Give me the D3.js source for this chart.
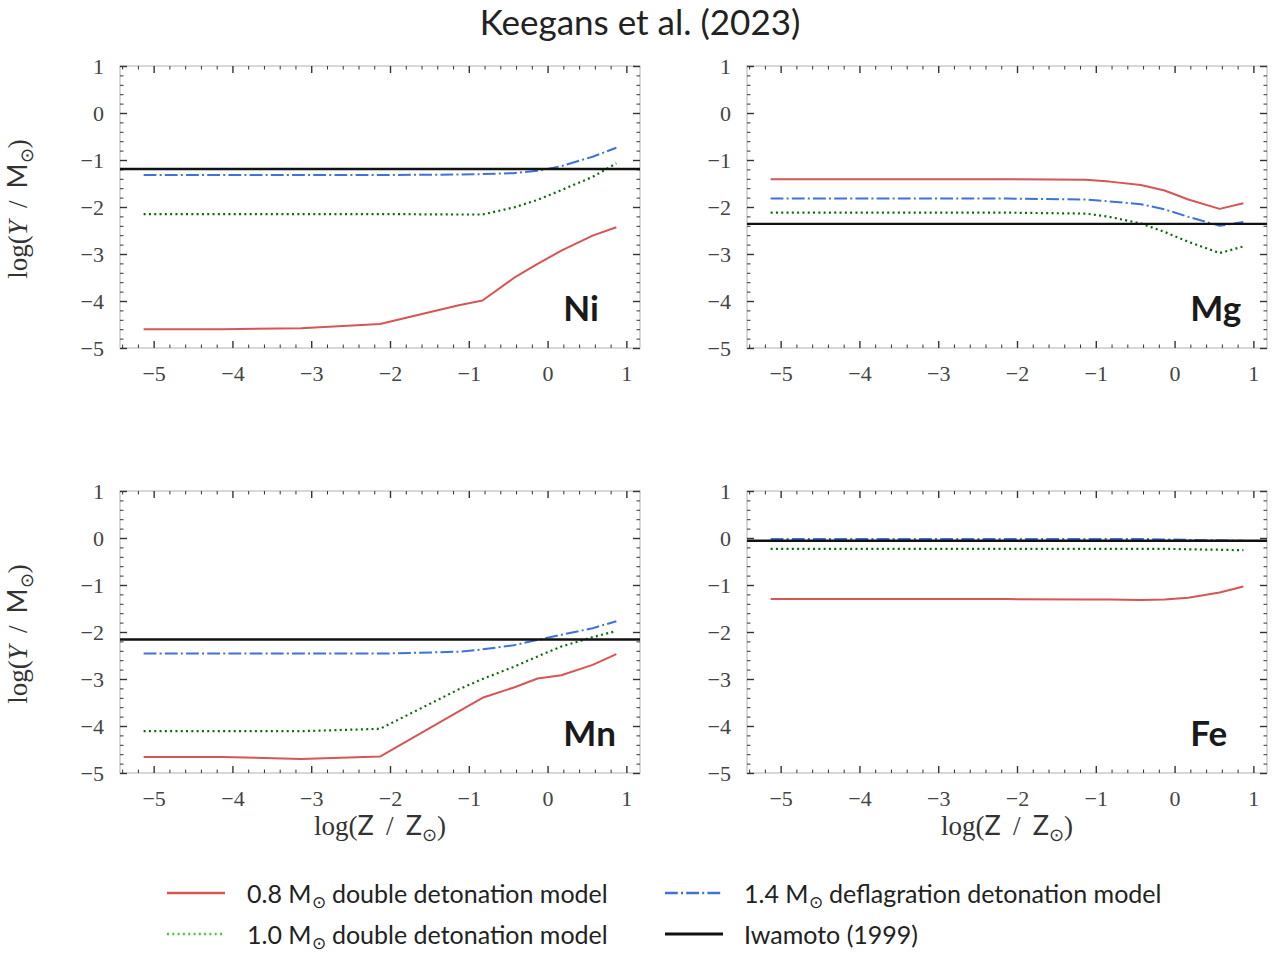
<!DOCTYPE html>
<html>
<head>
<meta charset="utf-8">
<script src="https://cdn.jsdelivr.net/npm/d3@7"></script>
<style>
  html, body { margin: 0; padding: 0; background: #fff; }
  svg { display: block; }
</style>
</head>
<body>
<svg id="chart" width="1275" height="953"></svg>
<script>
// Metallicity grid, log(Z / Zsun)
const logZ = [-5.127, -4.127, -3.127, -2.127, -1.127, -0.826, -0.428, -0.127, 0.174, 0.572, 0.873];

// Yields, log(Y / Msun)
const niDD08 = [-4.60, -4.60, -4.58, -4.49, -4.09, -3.99, -3.51, -3.21, -2.93, -2.61, -2.43];
const niDD10 = [-2.15, -2.15, -2.15, -2.15, -2.16, -2.16, -2.01, -1.85, -1.64, -1.36, -1.07];
const niDDT14 = [-1.32, -1.32, -1.32, -1.32, -1.31, -1.30, -1.28, -1.23, -1.13, -0.93, -0.74];
const niIwamoto = -1.19;

const mgDD08 = [-1.41, -1.41, -1.41, -1.41, -1.42, -1.46, -1.53, -1.65, -1.84, -2.04, -1.92];
const mgDD10 = [-2.12, -2.12, -2.12, -2.12, -2.14, -2.21, -2.35, -2.53, -2.74, -2.98, -2.84];
const mgDDT14 = [-1.82, -1.82, -1.82, -1.82, -1.84, -1.88, -1.94, -2.05, -2.21, -2.40, -2.32];
const mgIwamoto = -2.36;

const mnDD08 = [-4.66, -4.66, -4.70, -4.65, -3.69, -3.40, -3.18, -2.99, -2.92, -2.70, -2.47];
const mnDD10 = [-4.11, -4.11, -4.11, -4.06, -3.22, -3.00, -2.74, -2.52, -2.31, -2.11, -1.98];
const mnDDT14 = [-2.46, -2.46, -2.46, -2.46, -2.42, -2.37, -2.28, -2.17, -2.06, -1.92, -1.77];
const mnIwamoto = -2.16;

const feDD08 = [-1.30, -1.30, -1.30, -1.30, -1.31, -1.31, -1.32, -1.31, -1.27, -1.16, -1.03];
const feDD10 = [-0.23, -0.23, -0.23, -0.23, -0.23, -0.23, -0.23, -0.23, -0.24, -0.25, -0.26];
const feDDT14 = [-0.02, -0.02, -0.02, -0.02, -0.02, -0.02, -0.02, -0.03, -0.04, -0.05, -0.06];
const feIwamoto = -0.06;

const elements = ["Ni", "Mg", "Mn", "Fe"];
const xTicks = [-5, -4, -3, -2, -1, 0, 1];
const yTicks = [-5, -4, -3, -2, -1, 0, 1];
const legendLabels = [
  "0.8 M|double detonation model",
  "1.0 M|double detonation model",
  "1.4 M|deflagration detonation model",
  "Iwamoto (1999)"
];
const titleText = "Keegans et al. (2023)";

const panelData = [
  { el: elements[0], series: [niDD08, niDD10, niDDT14], ref: niIwamoto },
  { el: elements[1], series: [mgDD08, mgDD10, mgDDT14], ref: mgIwamoto },
  { el: elements[2], series: [mnDD08, mnDD10, mnDDT14], ref: mnIwamoto },
  { el: elements[3], series: [feDD08, feDD10, feDDT14], ref: feIwamoto }
];

// Styles for the four model curves
const styles = [
  { color: "#d65555", width: 2, dash: null, legendColor: "#d65555" },
  { color: "#0b6b0b", width: 2.2, dash: "2,3.3", legendColor: "#3fd03f" },
  { color: "#3f72d8", width: 2, dash: "12.8,3.2,2,3.2", legendColor: "#3f72d8" },
  { color: "#111111", width: 2.4, dash: null, legendColor: "#111111" }
];

const SERIF = "'Liberation Serif', 'DejaVu Serif', serif";
const SANS = "Lato, 'Open Sans', sans-serif";

const svg = d3.select("#chart");

// Layout of the 2x2 grid
const colX = [120, 747];
const rowY = [66, 491];
const pw = 520, ph = 282;

const xDomain = [logZ[0] - 0.05 * (logZ[logZ.length - 1] - logZ[0]),
                 logZ[logZ.length - 1] + 0.05 * (logZ[logZ.length - 1] - logZ[0])];

svg.append("text")
  .attr("x", 640).attr("y", 35)
  .attr("text-anchor", "middle")
  .attr("font-family", SANS)
  .attr("font-size", 35)
  .attr("fill", "#222")
  .text(titleText);

// Writes a label like "log(Y / M⊙)" with mixed faces and a subscript sun symbol
function mathLabel(sel, parts) {
  parts.forEach(p => {
    const t = sel.append("tspan").text(p.t)
      .attr("font-family", p.f === "sans" ? SANS : SERIF);
    if (p.i) t.attr("font-style", "italic");
    if (p.sub) t.attr("font-size", "0.68em");
    if (p.dy) t.attr("dy", p.dy);
  });
}

panelData.forEach((pd, i) => {
  const col = i % 2, row = Math.floor(i / 2);
  const x0 = colX[col], y0 = rowY[row];
  const g = svg.append("g").attr("transform", `translate(${x0},${y0})`);

  const x = d3.scaleLinear().domain(xDomain).range([0, pw]);
  const y = d3.scaleLinear().domain([-5, 1]).range([ph, 0]);

  const clipId = "clip" + i;
  g.append("clipPath").attr("id", clipId)
    .append("rect").attr("width", pw).attr("height", ph);

  // frame
  g.append("rect").attr("width", pw).attr("height", ph)
    .attr("fill", "none").attr("stroke", "#cfcfcf").attr("stroke-width", 1.6);

  // ticks (inward, on all four sides)
  const xMinor = d3.range(-5.4, 1.2, 0.2).map(v => +v.toFixed(1)).filter(v => Math.abs(v - Math.round(v)) > 1e-6 && v >= xDomain[0] && v <= xDomain[1]);
  const yMinor = d3.range(-5, 1.0001, 0.2).map(v => +v.toFixed(1)).filter(v => Math.abs(v - Math.round(v)) > 1e-6);
  const fmt = d => d3.format("")(d).replace("-", "\u2212");

  const axB = d3.axisBottom(x).tickValues(xTicks).tickSize(-7).tickFormat(fmt).tickPadding(17);
  const axT = d3.axisTop(x).tickValues(xTicks).tickSize(-7).tickFormat("");
  const axBm = d3.axisBottom(x).tickValues(xMinor).tickSize(-3.5).tickFormat("");
  const axTm = d3.axisTop(x).tickValues(xMinor).tickSize(-3.5).tickFormat("");
  const axL = d3.axisLeft(y).tickValues(yTicks).tickSize(-7).tickFormat(fmt).tickPadding(16);
  const axR = d3.axisRight(y).tickValues(yTicks).tickSize(-7).tickFormat("");
  const axLm = d3.axisLeft(y).tickValues(yMinor).tickSize(-3.5).tickFormat("");
  const axRm = d3.axisRight(y).tickValues(yMinor).tickSize(-3.5).tickFormat("");

  const put = (ax, tr, minor) => {
    const a = g.append("g").attr("transform", tr).call(ax);
    a.select(".domain").remove();
    a.selectAll(".tick line").attr("stroke", "#333").attr("stroke-width", minor ? 1 : 1.4);
    a.selectAll(".tick text").attr("font-family", SERIF).attr("font-size", 22).attr("fill", "#444");
    return a;
  };
  put(axB, `translate(0,${ph})`, false);
  put(axT, "translate(0,0)", false);
  put(axBm, `translate(0,${ph})`, true);
  put(axTm, "translate(0,0)", true);
  put(axL, "translate(0,0)", false);
  put(axR, `translate(${pw},0)`, false);
  put(axLm, "translate(0,0)", true);
  put(axRm, `translate(${pw},0)`, true);

  const plot = g.append("g").attr("clip-path", `url(#${clipId})`);
  const line = d3.line().x((d, k) => x(logZ[k])).y(d => y(d));

  pd.series.forEach((s, k) => {
    const st = styles[k];
    plot.append("path").datum(s)
      .attr("d", line)
      .attr("fill", "none")
      .attr("stroke", st.color)
      .attr("stroke-width", st.width)
      .attr("stroke-dasharray", st.dash)
      .attr("stroke-linejoin", "round");
  });

  // Iwamoto (1999) reference yield spans the full axis width
  plot.append("line")
    .attr("x1", 0).attr("x2", pw)
    .attr("y1", y(pd.ref)).attr("y2", y(pd.ref))
    .attr("stroke", styles[3].color).attr("stroke-width", styles[3].width);

  g.append("text")
    .attr("x", x(0.2)).attr("y", y(-4.42))
    .attr("font-family", SANS).attr("font-weight", "bold")
    .attr("font-size", 35).attr("fill", "#1a1a1a")
    .text(pd.el);

  if (col === 0) {
    const t = g.append("text")
      .attr("transform", `translate(${27 - x0},${ph / 2 + 2}) rotate(-90)`)
      .attr("text-anchor", "middle")
      .attr("font-size", 27).attr("fill", "#333");
    mathLabel(t, [
      { t: "log(", f: "serif" }, { t: "Y", f: "serif", i: true }, { t: " \u2009/\u2009 ", f: "serif" },
      { t: "M", f: "sans" }, { t: "\u2299", f: "sans", sub: true, dy: 6 }, { t: ")", f: "serif", dy: -6 }
    ]);
  }
  if (row === 1) {
    const t = g.append("text")
      .attr("x", pw / 2).attr("y", ph + 62)
      .attr("text-anchor", "middle")
      .attr("font-size", 27).attr("fill", "#333");
    mathLabel(t, [
      { t: "log(", f: "serif" }, { t: "Z", f: "sans" }, { t: " \u2009/\u2009 ", f: "serif" },
      { t: "Z", f: "sans" }, { t: "\u2299", f: "sans", sub: true, dy: 6 }, { t: ")", f: "serif", dy: -6 }
    ]);
  }
});

// Legend: two columns, filled top to bottom
const legendPos = [
  { hx: 167, tx: 247, y: 893 },
  { hx: 167, tx: 247, y: 934 },
  { hx: 665, tx: 744, y: 893 },
  { hx: 665, tx: 744, y: 934 }
];
legendLabels.forEach((lab, k) => {
  const p = legendPos[k], st = styles[k];
  svg.append("line")
    .attr("x1", p.hx).attr("x2", p.hx + 58)
    .attr("y1", p.y).attr("y2", p.y)
    .attr("stroke", st.legendColor)
    .attr("stroke-width", st.width + 0.4)
    .attr("stroke-dasharray", st.dash);
  const t = svg.append("text")
    .attr("x", p.tx).attr("y", p.y + 10)
    .attr("font-family", SANS).attr("font-size", 25).attr("fill", "#222");
  const parts = lab.split("|");
  if (parts.length === 2) {
    t.append("tspan").text(parts[0]);
    t.append("tspan").text("\u2299").attr("font-size", 17).attr("dy", 5);
    t.append("tspan").text(" " + parts[1]).attr("dy", -5);
  } else {
    t.text(lab);
  }
});
</script>
</body>
</html>
